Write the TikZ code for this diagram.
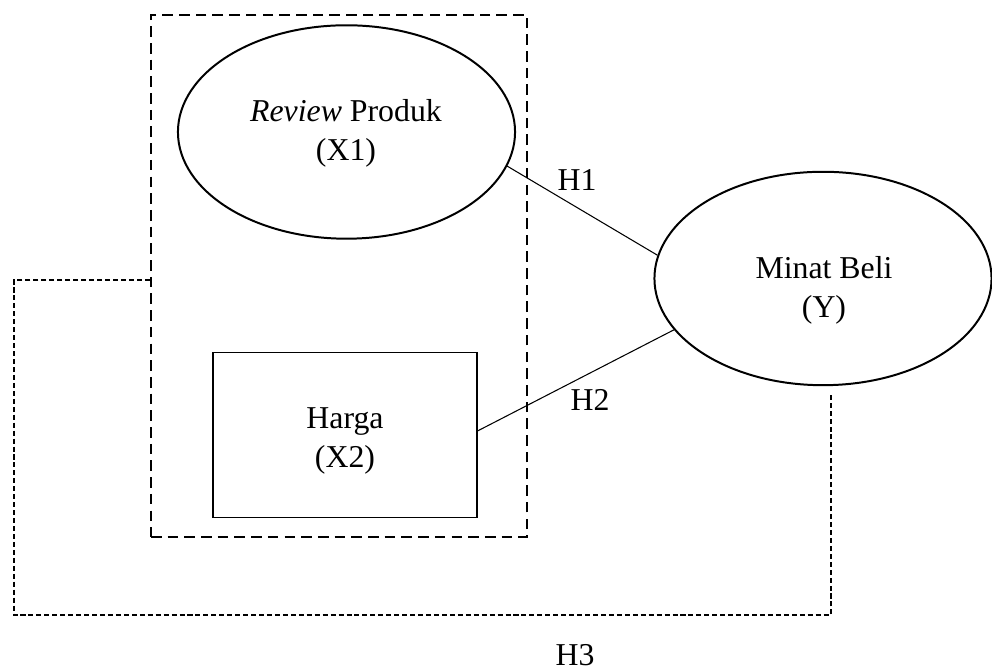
\documentclass[tikz,border=0pt]{standalone}
\usepackage{fontspec}
\setmainfont{Liberation Serif}
\usetikzlibrary{positioning, calc, shapes.geometric}
\tikzset{
    varnode/.style={ellipse, draw=black, line width=0.75pt, minimum width=4.47cm, minimum height=2.83cm, inner sep=0pt},
    boxnode/.style={rectangle, draw=black, line width=0.4pt, minimum width=3.50cm, minimum height=2.18cm},
    varlabel/.style={align=center, inner sep=0pt, font=\fontsize{12}{14.7}\selectfont},
    groupbox/.style={rectangle, draw=black, line width=1pt, dash pattern=on 4pt off 2.3pt},
    link/.style={draw=black, line width=0.4pt},
    simlink/.style={draw=black, line width=0.4pt, dash pattern=on 1.9pt off 1.1pt},
    hlabel/.style={inner sep=0pt, font=\fontsize{12}{14}\selectfont},
}

\begin{document}
\begin{tikzpicture}[x=0.013264cm, y=-0.013264cm]
    \useasboundingbox (0,0) rectangle (992,671);
    % Kotak variabel bebas
    \node[groupbox, minimum width=4.987cm, minimum height=6.924cm] (group) at (339,276) {};
    % Review Produk (X1)
    \node[varnode] (review) at (346.5,132) {};
    \node[varlabel] (reviewtext) at (346,133) {\textit{Review} Produk\\(X1)};
    % Harga (X2)
    \node[boxnode] (harga) at (345,435) {};
    \node[varlabel] (hargatext) at (345,441) {Harga\\(X2)};
    % Minat Beli (Y)
    \node[varnode] (minat) at (823,278.5) {};
    \node[varlabel] (minattext) at (824,290) {Minat Beli\\(Y)};
    % Hubungan parsial
    \draw[link] (review.-12) -- (minat.172);
    \draw[link] ($(harga.east)+(0,-4)$) -- (minat.199);
    \node[hlabel] (h1) at (577,180) {H1};
    \node[hlabel] (h2) at (590,400) {H2};
    % Hubungan simultan
    \coordinate (ysouth) at ($(minat.south)+(8,6)$);
    \draw[simlink] ($(group.west)+(0,4)$) -| (14,615) -| (ysouth);
    \node[hlabel] (h3) at (575,655) {H3};
\end{tikzpicture}
\end{document}
